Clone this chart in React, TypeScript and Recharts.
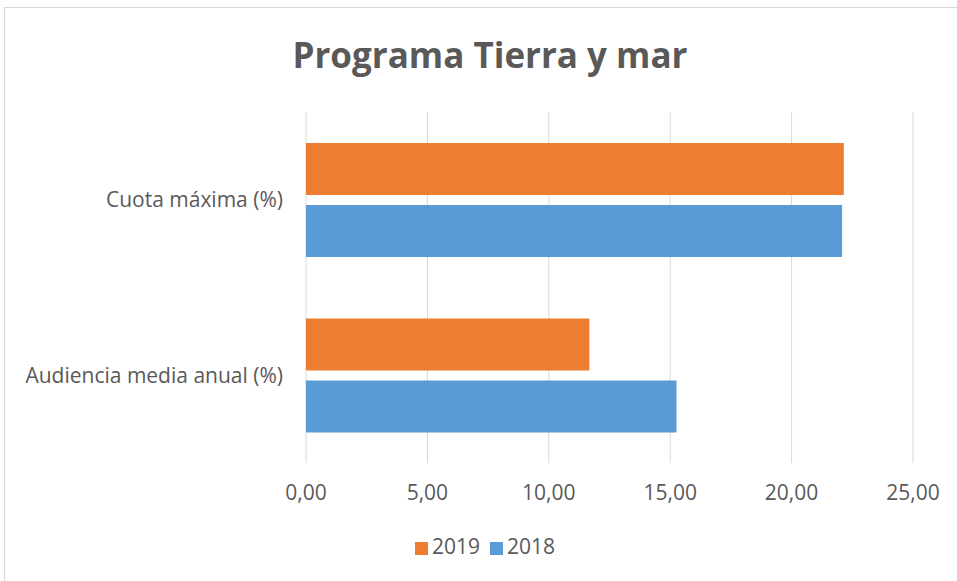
import React from 'react';
import { BarChart, Bar, XAxis, YAxis, CartesianGrid, Legend } from 'recharts';

const categories = ['Cuota máxima (%)', 'Audiencia media anual (%)'];
const values2019 = [22.15, 11.67];
const values2018 = [22.08, 15.26];
const xTicks = [0, 5, 10, 15, 20, 25];
const legendOrder = ['2019', '2018'];

const chartData = categories.map((name, i) => ({
  name,
  y2019: values2019[i],
  y2018: values2018[i],
}));

const FONT = '"Open Sans", sans-serif';
const TEXT = '#595959';

const formatTick = (v: number) => v.toFixed(2).replace('.', ',');

export default function App() {
  return (
    <div style={{ position: 'absolute', left: 0, top: 0, width: 957, height: 581, overflow: 'hidden', background: '#fff', fontFamily: FONT }}>
      <div style={{ position: 'absolute', left: 4, top: 7, width: 980, height: 580, border: '1px solid #d9d9d9', boxSizing: 'border-box' }} />
      <div style={{ position: 'absolute', left: 0, top: 30, width: 980, textAlign: 'center', fontSize: 35, fontWeight: 700, color: TEXT, lineHeight: '50px' }}>
        Programa Tierra y mar
      </div>
      <div style={{ position: 'absolute', left: 0, top: 0 }}>
        <BarChart
          width={980}
          height={581}
          data={chartData}
          layout="vertical"
          margin={{ top: 112, right: 67, bottom: 22, left: 0 }}
          barGap={10}
          barCategoryGap={31}
        >
          <CartesianGrid horizontal={false} stroke="#d9d9d9" />
          <XAxis
            type="number"
            domain={[0, 25]}
            ticks={xTicks}
            tickFormatter={formatTick}
            axisLine={false}
            tickLine={false}
            tickMargin={16}
            height={70}
            tick={{ fill: TEXT, fontSize: 21, fontFamily: FONT }}
          />
          <YAxis
            type="category"
            dataKey="name"
            width={306}
            axisLine={false}
            tickLine={false}
            tickMargin={17}
            tick={{ fill: TEXT, fontSize: 21, fontFamily: FONT }}
          />
          <Legend
            verticalAlign="bottom"
            align="center"
            iconType="square"
            iconSize={13}
            itemSorter={(item: any) => legendOrder.indexOf(String(item.value))}
            wrapperStyle={{ left: 0, width: 980, fontSize: 21, fontFamily: FONT, lineHeight: '26px' }}
            formatter={(value: string) => <span style={{ color: TEXT }}>{value}</span>}
          />
          <Bar dataKey="y2019" name="2019" fill="#ED7D31" isAnimationActive={false} />
          <Bar dataKey="y2018" name="2018" fill="#5B9BD5" isAnimationActive={false} />
        </BarChart>
      </div>
    </div>
  );
}
